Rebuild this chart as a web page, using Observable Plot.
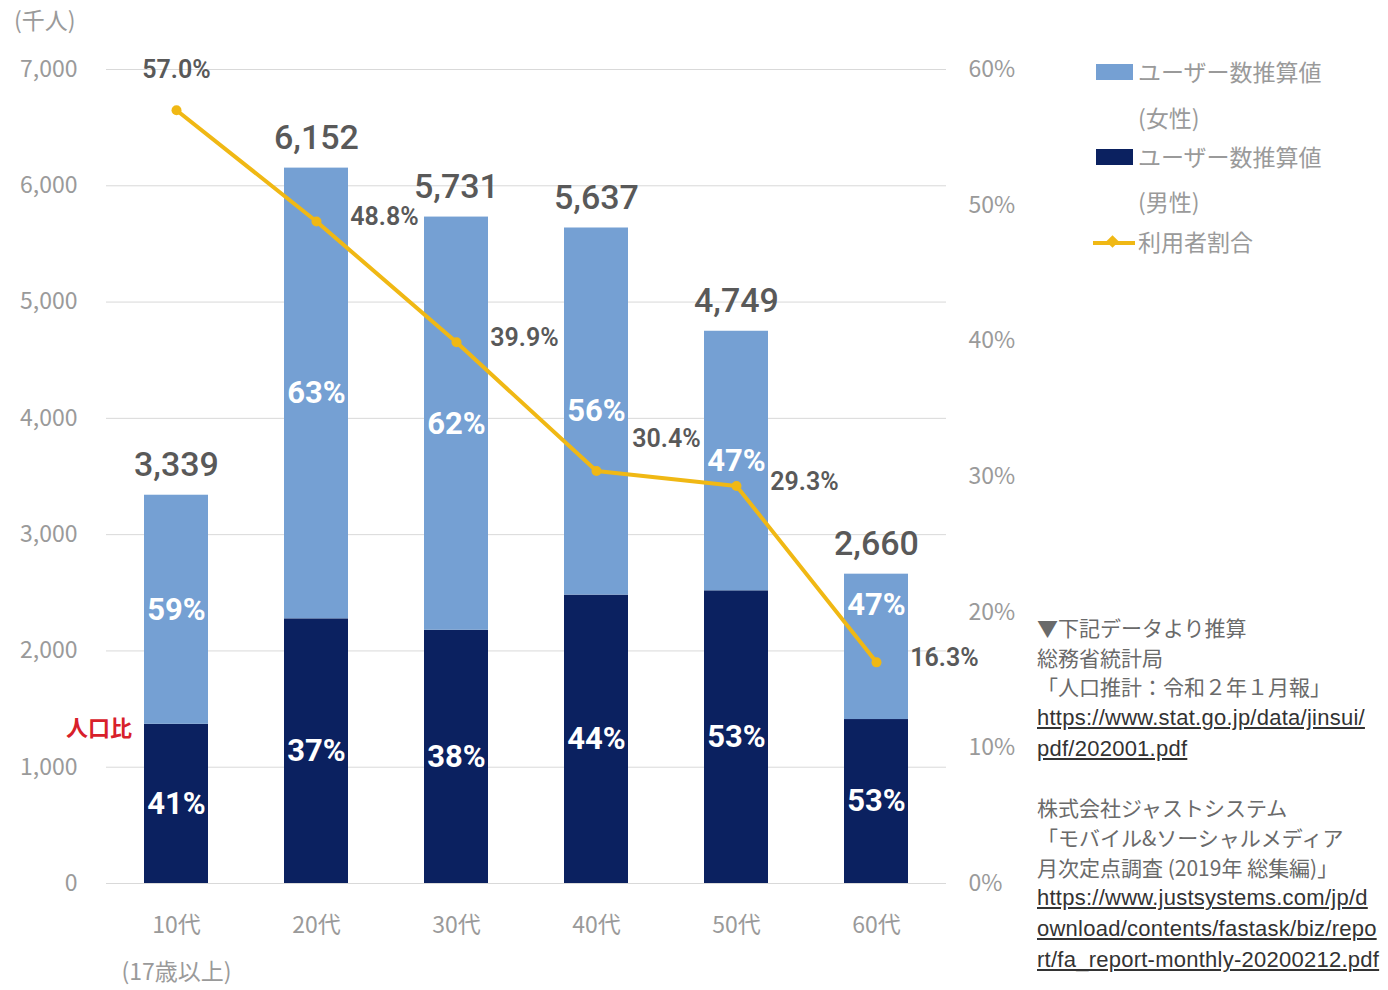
<!DOCTYPE html>
<html><head><meta charset="utf-8">
<script src="https://cdn.jsdelivr.net/npm/d3@7"></script>
<script src="https://cdn.jsdelivr.net/npm/@observablehq/plot@0.6"></script>
<style>
body{margin:0;background:#fff;}
#wrap{position:relative;width:1388px;height:990px;font-family:"Noto Sans CJK JP","Noto Sans",sans-serif;}
.abs{position:absolute;white-space:pre;}
.gray{color:#9a9a9a;font-size:23px;}
.note{color:#6a6a6a;font-size:21px;line-height:29.7px;}
.url{color:#333;text-decoration:underline;font-family:"Liberation Sans",sans-serif;font-size:22px;letter-spacing:0.25px;}
</style></head>
<body><div id="wrap"></div>
<script>
const ages = ["10代\n(17歳以上)", "20代", "30代", "40代", "50代", "60代"];
const totals = [3339, 6152, 5731, 5637, 4749, 2660];
const maleValues = [1369, 2276, 2178, 2480, 2517, 1410];
const malePct = [41, 37, 38, 44, 53, 53];
const femalePct = [59, 63, 62, 56, 47, 47];
const userRate = [57.0, 48.8, 39.9, 30.4, 29.3, 16.3];
const leftTicks = [0, 1000, 2000, 3000, 4000, 5000, 6000, 7000];
const rightTicks = [0, 10, 20, 30, 40, 50, 60];
const sexes = ["男性", "女性"];

const LIGHT = "#75a0d3", NAVY = "#0b2160", GOLD = "#f0b814";
const YMAX = 7000, PMAX = 60;
const toY = p => p / PMAX * YMAX;
const NUMFONT = "'Roboto','Noto Sans',sans-serif";

const rows = [];
ages.forEach((a, i) => {
  rows.push({age: a, sex: "男性", value: maleValues[i], pct: malePct[i], i});
  rows.push({age: a, sex: "女性", value: totals[i] - maleValues[i], pct: femalePct[i], i});
});
const lineRows = ages.map((a, i) => ({age: a, rate: userRate[i], i}));
const totalRows = ages.map((a, i) => ({age: a, total: totals[i]}));
const last = ages.length - 1;

const segStyle = {x: "age", y: "value", z: "sex", fill: "white", fontSize: 31, fontWeight: "bold", fontFamily: NUMFONT};
const rateText = {x: "age", y: d => toY(d.rate), text: d => d.rate.toFixed(1) + "%", fontSize: 25, fontWeight: 600, fill: "#595959", fontFamily: NUMFONT};

const chart = Plot.plot({
  width: 1388, height: 990,
  marginLeft: 106, marginRight: 442, marginTop: 69, marginBottom: 107,
  style: {fontFamily: "'Noto Sans CJK JP','Noto Sans',sans-serif", background: "transparent"},
  x: {domain: ages, paddingInner: 0.543, paddingOuter: 0.2715, label: null},
  y: {domain: [0, YMAX], label: null},
  color: {domain: sexes, range: [NAVY, LIGHT]},
  marks: [
    Plot.ruleY(leftTicks, {stroke: "#d9d9d9", strokeWidth: 1}),
    Plot.axisY({ticks: leftTicks, tickFormat: d3.format(","), tickSize: 0, tickPadding: 29, fontSize: 23, color: "#9a9a9a", label: null}),
    Plot.axisY({anchor: "right", ticks: rightTicks.map(toY), tickFormat: d => Math.round(d * PMAX / YMAX) + "%", tickSize: 0, tickPadding: 22, fontSize: 23, color: "#9a9a9a", label: null}),
    Plot.axisX({tickSize: 0, tickPadding: 16, fontSize: 23, color: "#9a9a9a", lineHeight: 2.05, label: null, textAnchor: "middle", lineAnchor: "top"}),
    Plot.barY(rows, {x: "age", y: "value", fill: "sex"}),
    Plot.text(rows, Plot.stackY({...segStyle, text: d => (d.sex === "女性" && d.i === last) ? null : d.pct + "%"})),
    Plot.text(rows, Plot.stackY2({...segStyle, text: d => (d.sex === "女性" && d.i === last) ? d.pct + "%" : null, dy: 31})),
    Plot.text(totalRows, {x: "age", y: "total", text: d => d3.format(",")(d.total), dy: -30, fontSize: 34, fontWeight: 500, fill: "#595959", fontFamily: NUMFONT}),
    Plot.line(lineRows, {x: "age", y: d => toY(d.rate), stroke: GOLD, strokeWidth: 4}),
    Plot.dot(lineRows, {x: "age", y: d => toY(d.rate), fill: GOLD, r: 5}),
    Plot.text(lineRows.filter(d => d.i === 0), {...rateText, dy: -40}),
    Plot.text(lineRows.filter(d => d.i === 3), {...rateText, dx: 70, dy: -32}),
    Plot.text(lineRows.filter(d => d.i > 0 && d.i !== 3), {...rateText, dx: 68, dy: -4})
  ]
});
const wrap = document.getElementById("wrap");
chart.style.position = "absolute"; chart.style.left = "0"; chart.style.top = "0";
wrap.appendChild(chart);

function add(html, css, cls) {
  const d = document.createElement("div");
  d.className = "abs " + (cls || "");
  d.innerHTML = html;
  Object.assign(d.style, css);
  wrap.appendChild(d);
  return d;
}
add("(千人)", {left: "14px", top: "2px"}, "gray");
add("人口比", {left: "66px", top: "710px", color: "#d8202a", fontSize: "22px", fontWeight: "bold"});

// legend
add("", {left: "1096px", top: "64px", width: "37px", height: "16px", background: LIGHT});
add("ユーザー数推算値", {left: "1138px", top: "54px"}, "gray");
add("(女性)", {left: "1138px", top: "100px"}, "gray");
add("", {left: "1096px", top: "149px", width: "37px", height: "16px", background: NAVY});
add("ユーザー数推算値", {left: "1138px", top: "139px"}, "gray");
add("(男性)", {left: "1138px", top: "184px"}, "gray");
add("", {left: "1093px", top: "241px", width: "42px", height: "4px", background: GOLD});
add("", {left: "1108px", top: "237px", width: "9px", height: "9px", background: GOLD, transform: "rotate(45deg)"});
add("利用者割合", {left: "1138px", top: "224px"}, "gray");

// notes
const notes = add("", {left: "1037px", top: "613px"}, "note");
notes.innerHTML =
  "▼下記データより推算\n総務省統計局\n「人口推計：令和２年１月報」\n" +
  "<span class='url'>https://www.stat.go.jp/data/jinsui/</span>\n<span class='url'>pdf/202001.pdf</span>\n\n" +
  "株式会社ジャストシステム\n「モバイル&amp;ソーシャルメディア\n月次定点調査 (2019年 総集編)」\n" +
  "<span class='url'>https://www.justsystems.com/jp/d</span>\n<span class='url'>ownload/contents/fastask/biz/repo</span>\n<span class='url'>rt/fa_report-monthly-20200212.pdf</span>";
</script></body></html>
